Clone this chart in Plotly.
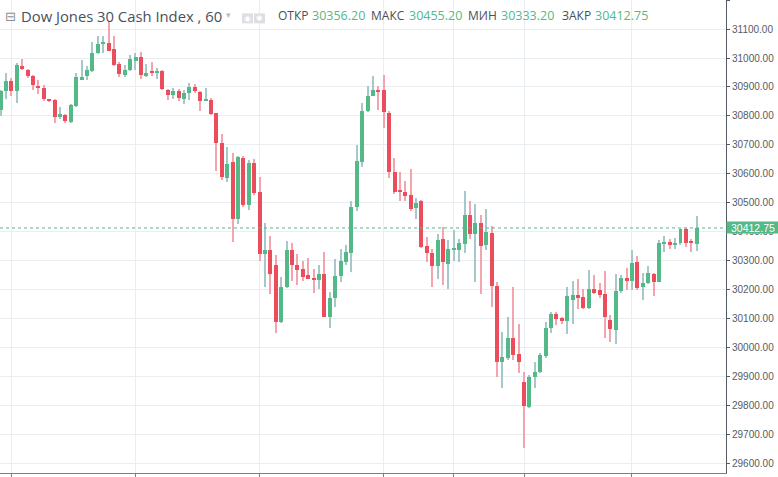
import plotly.graph_objects as go

# hourly candles, Dow Jones 30 Cash Index
open_ = [30820, 30885, 30920, 30885, 30971, 30960, 30939, 30905, 30897, 30859,
         30854, 30797, 30803, 30779, 30834, 30925, 30939, 30954, 31017, 31049,
         31052, 31031, 30981, 30943, 30957, 30991, 31003, 30937, 30956, 30948,
         30956, 30891, 30871, 30885, 30859, 30879, 30900, 30882, 30853, 30854,
         30809, 30705, 30586, 30640, 30443, 30653, 30491, 30636, 30537, 30322,
         30335, 30285, 30088, 30209, 30335, 30285, 30272, 30251, 30240, 30232,
         30255, 30106, 30169, 30246, 30294, 30327, 30484, 30639, 30817, 30870,
         30891, 30891, 30811, 30607, 30545, 30538, 30527, 30481, 30507, 30350,
         30327, 30281, 30373, 30289, 30337, 30338, 30358, 30458, 30392, 30430,
         30354, 30396, 30212, 29951, 29962, 30033, 29976, 29880, 29793, 29899,
         29914, 29971, 30068, 30117, 30100, 30091, 30163, 30182, 30174, 30137,
         30201, 30197, 30186, 30096, 30060, 30195, 30241, 30229, 30295, 30207,
         30221, 30253, 30225, 30359, 30365, 30354, 30360, 30408, 30368, 30356.20]
high = [30890, 30948, 30931, 30983, 30997, 30962, 30943, 30923, 30908, 30860,
        30857, 30831, 30807, 30840, 30948, 30992, 30971, 31054, 31075, 31075,
        31123, 31077, 30985, 30977, 31011, 31017, 31022, 30980, 30985, 30965,
        30957, 30893, 30897, 30893, 30889, 30914, 30910, 30885, 30897, 30862,
        30811, 30737, 30691, 30671, 30660, 30660, 30649, 30651, 30588, 30430,
        30386, 30320, 30243, 30366, 30361, 30323, 30300, 30308, 30270, 30283,
        30331, 30191, 30306, 30341, 30354, 30507, 30698, 30845, 30905, 30939,
        30905, 30943, 30817, 30653, 30605, 30576, 30618, 30515, 30510, 30381,
        30341, 30392, 30415, 30370, 30404, 30373, 30541, 30507, 30495, 30458,
        30478, 30421, 30226, 30054, 30106, 30209, 30079, 29914, 29905, 29949,
        29979, 30088, 30121, 30123, 30106, 30209, 30228, 30235, 30201, 30266,
        30251, 30224, 30263, 30111, 30255, 30251, 30274, 30338, 30316, 30256,
        30282, 30256, 30370, 30385, 30374, 30377, 30409, 30412, 30374, 30455.20]
low = [30800, 30857, 30868, 30845, 30960, 30931, 30891, 30877, 30851, 30849,
       30774, 30791, 30776, 30776, 30832, 30923, 30925, 30951, 31015, 31017,
       31023, 30971, 30935, 30935, 30954, 30957, 30927, 30934, 30939, 30927,
       30891, 30854, 30857, 30851, 30842, 30854, 30879, 30817, 30851, 30802,
       30611, 30577, 30571, 30365, 30425, 30485, 30474, 30525, 30297, 30209,
       30186, 30048, 30085, 30205, 30228, 30217, 30228, 30235, 30189, 30203,
       30105, 30068, 30140, 30226, 30283, 30260, 30472, 30625, 30813, 30868,
       30822, 30759, 30587, 30530, 30507, 30507, 30473, 30444, 30343, 30295,
       30209, 30235, 30215, 30203, 30300, 30295, 30327, 30375, 30226, 30186,
       30335, 30140, 29896, 29859, 29957, 29957, 29911, 29653, 29790, 29859,
       29911, 29962, 30048, 30077, 30079, 30045, 30079, 30132, 30132, 30134,
       30186, 30169, 30031, 30020, 30010, 30189, 30197, 30197, 30197, 30164,
       30219, 30179, 30225, 30328, 30339, 30339, 30354, 30347, 30328, 30333.20]
close = [30885, 30920, 30885, 30975, 30963, 30939, 30906, 30896, 30857, 30852,
         30797, 30807, 30782, 30836, 30934, 30933, 30958, 31017, 31049, 31052,
         31025, 30977, 30946, 30960, 30996, 31005, 30942, 30950, 30948, 30956,
         30893, 30871, 30885, 30862, 30879, 30900, 30885, 30853, 30857, 30805,
         30705, 30588, 30634, 30443, 30657, 30491, 30636, 30534, 30322, 30337,
         30255, 30088, 30209, 30335, 30283, 30266, 30243, 30237, 30232, 30255,
         30106, 30171, 30246, 30297, 30331, 30486, 30645, 30817, 30868, 30888,
         30885, 30813, 30607, 30538, 30536, 30524, 30478, 30499, 30346, 30327,
         30281, 30370, 30295, 30341, 30341, 30361, 30458, 30392, 30430, 30352,
         30398, 30212, 29951, 29965, 30031, 29974, 29951, 29796, 29896, 29916,
         29974, 30068, 30115, 30098, 30091, 30177, 30182, 30171, 30137, 30201,
         30189, 30182, 30106, 30063, 30195, 30238, 30228, 30293, 30206, 30221,
         30256, 30225, 30362, 30365, 30354, 30360, 30408, 30362, 30362, 30412.75]

# candle positions of the session gridlines
grid_bars = [2, 25, 48, 71, 84, 97, 117]
y_ticks = list(range(29600, 31201, 100))

last_close = close[-1]
header_title = "Dow Jones 30 Cash Index , 60"
header_fields = [("ОТКР", "30356.20"), ("МАКС", "30455.20"), ("МИН", "30333.20"), ("ЗАКР", "30412.75")]

UP = "#53b987"
DOWN = "#eb4d5c"
UP_WICK = "#a6c8cb"
DOWN_WICK = "#f4a4ad"

W, H = 778, 477
ML, MR, MT, MB = 0, 52, 0, 1
PW, PH = W - ML - MR, H - MT - MB

idx = list(range(len(close)))
is_up = [c >= o for o, c in zip(open_, close)]
body_base = [min(o, c) for o, c in zip(open_, close)]
body_h = [max(abs(c - o), 3) for o, c in zip(open_, close)]
wick_h = [h - l for h, l in zip(high, low)]


def px(x):
    return (x - ML) / PW


def py(y):
    return 1 - (y - MT) / PH


fig = go.Figure()
fig.add_trace(go.Bar(x=idx, y=wick_h, base=low, width=0.19,
                     marker=dict(color=[UP_WICK if u else DOWN_WICK for u in is_up], line_width=0),
                     hoverinfo="skip", showlegend=False))
fig.add_trace(go.Bar(x=idx, y=body_h, base=body_base, width=0.74,
                     marker=dict(color=[UP if u else DOWN for u in is_up], line_width=0),
                     customdata=list(zip(open_, high, low, close)),
                     hovertemplate="O %{customdata[0]}<br>H %{customdata[1]}<br>L %{customdata[2]}<br>C %{customdata[3]}<extra></extra>",
                     showlegend=False))

# last price line
fig.add_shape(type="line", xref="paper", yref="y", x0=0, x1=1, y0=last_close, y1=last_close,
              line=dict(color=UP, width=1, dash="dot"), layer="above")

fig.add_annotation(xref="paper", yref="y", x=1, y=last_close, xanchor="left", yanchor="middle",
                   text="30412.75", showarrow=False, bgcolor=UP, width=50, height=9, borderpad=1,
                   align="center", font=dict(family="Liberation Sans", size=10.5, color="white"))

# header
hdr_font = dict(family="Open Sans", size=14.8, color="#4a4f5a")
fig.add_annotation(xref="paper", yref="paper", x=px(3), y=py(16.5), xanchor="left", yanchor="middle",
                   text="⊟", showarrow=False, font=dict(family="DejaVu Sans", size=13, color="#8a8f99"))
fig.add_annotation(xref="paper", yref="paper", x=px(19), y=py(16.5), xanchor="left", yanchor="middle",
                   text=header_title, showarrow=False, font=hdr_font)
fig.add_annotation(xref="paper", yref="paper", x=px(224), y=py(15.5), xanchor="left", yanchor="middle",
                   text="▾", showarrow=False, font=dict(family="DejaVu Sans", size=9, color="#b8bcc2"))
for x0 in (242, 254):
    fig.add_shape(type="rect", xref="paper", yref="paper", x0=px(x0), x1=px(x0 + 11),
                  y0=py(23.5), y1=py(13.5), fillcolor="#dcdee1", line_width=0, layer="above")
fig.add_annotation(xref="paper", yref="paper", x=px(247.5), y=py(18.5), xanchor="center", yanchor="middle",
                   text="◉", showarrow=False, font=dict(family="DejaVu Sans", size=8, color="white"))
fig.add_annotation(xref="paper", yref="paper", x=px(259.5), y=py(18.5), xanchor="center", yanchor="middle",
                   text="✱", showarrow=False, font=dict(family="DejaVu Sans", size=8, color="white"))

value_x = [311, 408, 500, 594]
for (lab, val), xv in zip(header_fields, value_x):
    fig.add_annotation(xref="paper", yref="paper", x=px(xv - 1), y=py(16), xanchor="right", yanchor="middle",
                       text=lab, showarrow=False, font=dict(family="Open Sans", size=12, color="#4a4f5a"))
    fig.add_annotation(xref="paper", yref="paper", x=px(xv - 1), y=py(16), xanchor="left", yanchor="middle",
                       text=val, showarrow=False, font=dict(family="Open Sans", size=12.5, color=UP))

fig.update_layout(
    width=W, height=H,
    margin=dict(l=ML, r=MR, t=MT, b=MB, pad=0),
    paper_bgcolor="white", plot_bgcolor="white",
    barmode="overlay", bargap=0,
    showlegend=False,
    xaxis=dict(range=[-0.111, (PW - 0.6) / 5.396], tickmode="array", tickvals=grid_bars,
               showticklabels=False, showgrid=True, gridcolor="#e9eef2", gridwidth=1,
               zeroline=False, showline=True, linecolor="#7a7f87", linewidth=1,
               ticks="outside", ticklen=4, tickcolor="#7a7f87", fixedrange=True),
    yaxis=dict(side="right", range=[29565.7, 31200.6], tickmode="array", tickvals=y_ticks,
               tickformat=".2f", showgrid=True, gridcolor="#e9eef2", gridwidth=1,
               zeroline=False, showline=True, linecolor="#555b63", linewidth=1,
               ticks="outside", ticklen=3, tickcolor="#555b63",
               tickfont=dict(family="Liberation Sans", size=10, color="#555b63")),
)

# page body has a default 8px margin; drop it so the chart sits at the window corner
fig.write_html("out.html", config={"displayModeBar": False},
               post_script="document.body.style.margin='0px';")
